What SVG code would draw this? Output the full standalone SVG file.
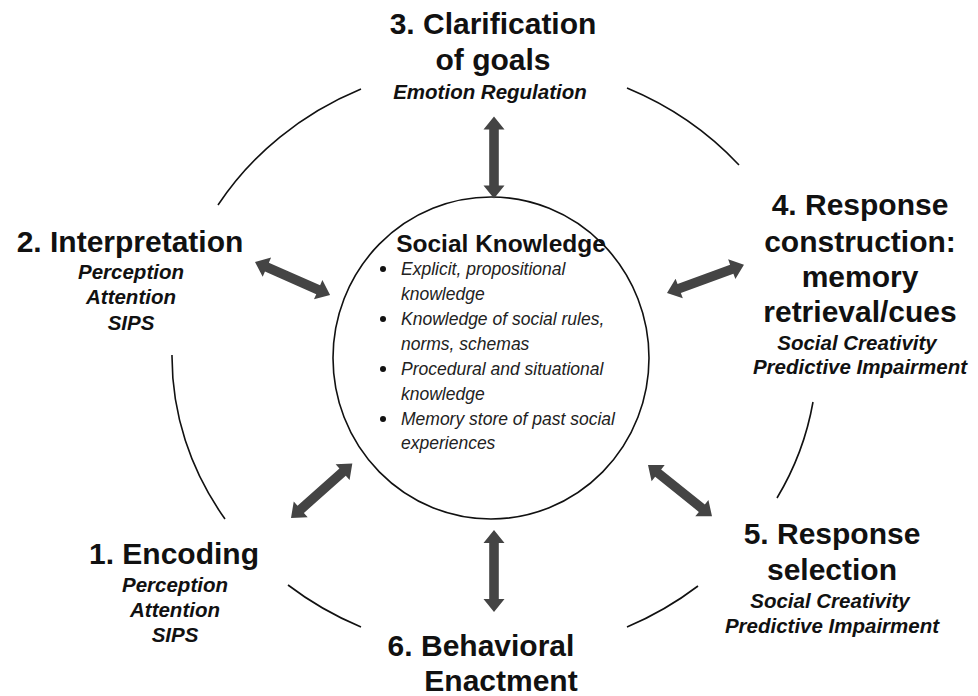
<svg xmlns="http://www.w3.org/2000/svg" xmlns:xlink="http://www.w3.org/1999/xlink" width="978" height="696" viewBox="0 0 978 696">
  <style>
    .ring { fill: none; stroke: #111; stroke-width: 1.6; }
    .hub { fill: #fff; stroke: #111; stroke-width: 1.6; }
    .title { font-family: "Liberation Sans", Arial, sans-serif; font-weight: bold; font-size: 30px; fill: #111; text-anchor: middle; }
    .sub { font-family: "Liberation Sans", Arial, sans-serif; font-weight: bold; font-style: italic; font-size: 20.5px; fill: #111; text-anchor: middle; }
    .hubtitle { font-family: "Liberation Sans", Arial, sans-serif; font-weight: bold; font-size: 24.5px; fill: #111; text-anchor: middle; }
    .item { font-family: "Liberation Sans", Arial, sans-serif; font-style: italic; font-size: 17.5px; fill: #222; }
    .dot { fill: #111; }
    .arrow { fill: #444; }
  </style>
  <defs>
    <!-- double-headed block arrow, 82 px tip to tip, along +x -->
    <path id="dbl" d="M0,0 L13,-10.5 L13,-4.8 L69,-4.8 L69,-10.5 L82,0 L69,10.5 L69,4.8 L13,4.8 L13,10.5 Z"/>
  </defs>

  <rect width="978" height="696" fill="#fff"/>

  <!-- outer cycle, broken where the stage labels sit -->
  <g id="cycle">
    <path class="ring" d="M218,205 A322,296 0 0 1 361,89"/>
    <path class="ring" d="M627,88 A322,296 0 0 1 739,165"/>
    <path class="ring" d="M813,402 A322,296 0 0 1 777,498"/>
    <path class="ring" d="M698,586 A322,296 0 0 1 627,627"/>
    <path class="ring" d="M361,627 A322,296 0 0 1 288,585"/>
    <path class="ring" d="M225,519 A322,296 0 0 1 172,355"/>
  </g>

  <!-- central hub -->
  <g id="social-knowledge">
    <ellipse class="hub" cx="491" cy="358" rx="158" ry="161"/>
    <text class="hubtitle" x="501" y="252">Social Knowledge</text>
    <circle class="dot" cx="383" cy="269" r="3"/>
    <text class="item" x="401" y="275">Explicit, propositional</text>
    <text class="item" x="401" y="300">knowledge</text>
    <circle class="dot" cx="383" cy="319" r="3"/>
    <text class="item" x="401" y="325">Knowledge of social rules,</text>
    <text class="item" x="401" y="350">norms, schemas</text>
    <circle class="dot" cx="383" cy="369" r="3"/>
    <text class="item" x="401" y="375">Procedural and situational</text>
    <text class="item" x="401" y="400">knowledge</text>
    <circle class="dot" cx="383" cy="419" r="3"/>
    <text class="item" x="401" y="425">Memory store of past social</text>
    <text class="item" x="401" y="449">experiences</text>
  </g>

  <g id="encoding">
    <text class="title" x="174" y="564">1. Encoding</text>
    <text class="sub" x="175" y="592">Perception</text>
    <text class="sub" x="175" y="617">Attention</text>
    <text class="sub" x="175" y="642">SIPS</text>
  </g>

  <g id="interpretation">
    <text class="title" x="130" y="252">2. Interpretation</text>
    <text class="sub" x="131" y="279">Perception</text>
    <text class="sub" x="131" y="304">Attention</text>
    <text class="sub" x="131" y="330">SIPS</text>
  </g>

  <g id="clarification">
    <text class="title" x="493" y="34">3. Clarification</text>
    <text class="title" x="493" y="70">of goals</text>
    <text class="sub" x="490" y="99">Emotion Regulation</text>
  </g>

  <g id="response-construction">
    <text class="title" x="860" y="215">4. Response</text>
    <text class="title" x="860" y="252">construction:</text>
    <text class="title" x="860" y="287">memory</text>
    <text class="title" x="860" y="322">retrieval/cues</text>
    <text class="sub" x="857" y="350">Social Creativity</text>
    <text class="sub" x="860" y="374">Predictive Impairment</text>
  </g>

  <g id="response-selection">
    <text class="title" x="832" y="544">5. Response</text>
    <text class="title" x="832" y="580">selection</text>
    <text class="sub" x="830" y="608">Social Creativity</text>
    <text class="sub" x="832" y="633">Predictive Impairment</text>
  </g>

  <g id="behavioral-enactment">
    <text class="title" x="481" y="656">6. Behavioral</text>
    <text class="title" x="501" y="691">Enactment</text>
  </g>

  <!-- two-way links between the hub and each stage -->
  <g id="connectors" class="arrow">
    <use xlink:href="#dbl" transform="translate(494,116.5) rotate(90)"/>
    <use xlink:href="#dbl" transform="translate(494,530) rotate(90)"/>
    <use xlink:href="#dbl" transform="translate(255,262) rotate(23.7)"/>
    <use xlink:href="#dbl" transform="translate(291,518) rotate(-41.6)"/>
    <use xlink:href="#dbl" transform="translate(667,293) rotate(-20.2)"/>
    <use xlink:href="#dbl" transform="translate(648,465) rotate(38.7)"/>
  </g>
</svg>
